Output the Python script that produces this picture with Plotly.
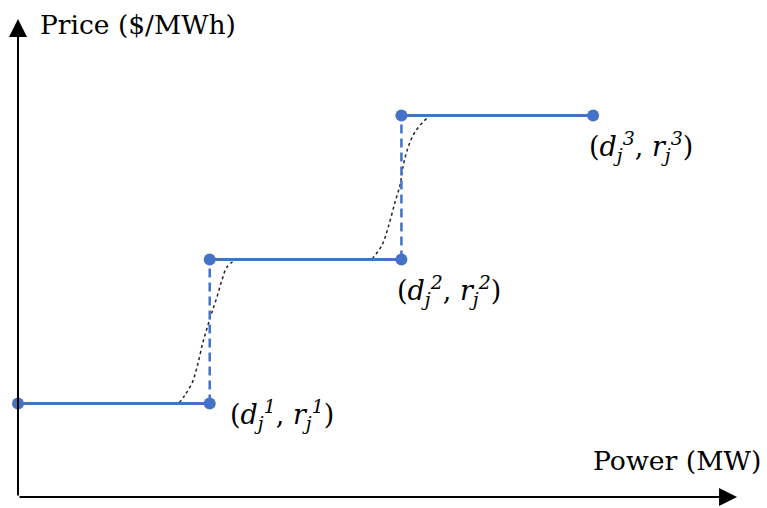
import plotly.graph_objects as go

# Stepwise price-quantity bid: block end points (d_j^k, r_j^k)
power_steps = [1.0, 2.0, 3.0]          # d_j^1, d_j^2, d_j^3
price_steps = [0.65, 1.65, 2.65]       # r_j^1, r_j^2, r_j^3
block_start = [0.0, 1.0, 2.0]          # left end of each block

# Smoothed transitions between blocks (dotted)
smooth1_d = [0.840, 0.871, 0.908, 0.934, 0.965, 0.991, 1.012, 1.038, 1.064, 1.090, 1.137]
smooth1_r = [0.653, 0.708, 0.792, 0.903, 1.076, 1.194, 1.285, 1.389, 1.507, 1.597, 1.650]
smooth2_d = [1.847, 1.899, 1.930, 1.967, 1.993, 2.008, 2.034, 2.071, 2.134, 2.154]
smooth2_r = [1.653, 1.750, 1.868, 2.049, 2.167, 2.292, 2.424, 2.535, 2.632, 2.650]

point_labels = ["(<i>d</i><sub><i>j</i></sub><sup><i>%d</i></sup>, "
                "<i>r</i><sub><i>j</i></sub><sup><i>%d</i></sup>)" % (k, k)
                for k in (1, 2, 3)]
x_title = "Power (MW)"
y_title = "Price ($/MWh)"

BLUE = "#4472C4"
SERIF = "DejaVu Serif"

X_RANGE = [-0.0939, 3.907]
Y_RANGE = [-0.0764, 3.4514]
X_TIP = 3.751
Y_TIP = 3.319

fig = go.Figure()

# dotted smooth curves
for dd, rr in [(smooth1_d, smooth1_r), (smooth2_d, smooth2_r)]:
    fig.add_trace(go.Scatter(x=dd, y=rr, mode="lines",
                             line=dict(color="#222222", width=1.5, dash="dot", shape="spline"),
                             hoverinfo="skip"))

# dashed vertical jumps between blocks
for k in range(len(power_steps) - 1):
    fig.add_trace(go.Scatter(x=[power_steps[k], power_steps[k]],
                             y=[price_steps[k], price_steps[k + 1]],
                             mode="lines",
                             line=dict(color=BLUE, width=2.5, dash="9px,5px"),
                             hoverinfo="skip"))

# horizontal blocks with end markers
for k in range(len(power_steps)):
    fig.add_trace(go.Scatter(x=[block_start[k], power_steps[k]],
                             y=[price_steps[k], price_steps[k]],
                             mode="lines+markers",
                             line=dict(color=BLUE, width=3),
                             marker=dict(color=BLUE, size=12),
                             hoverinfo="skip"))

annotations = []
# axes with arrowheads
for tip_x, tip_y in [(X_TIP, 0), (0, Y_TIP)]:
    annotations.append(dict(x=tip_x, y=tip_y, ax=0, ay=0, xref="x", yref="y",
                            axref="x", ayref="y", text="", showarrow=True,
                            arrowhead=2, arrowwidth=2, arrowsize=1.8, arrowcolor="black"))

# axis titles
annotations.append(dict(x=0, y=Y_TIP, xref="x", yref="y", text=y_title, showarrow=False,
                        xanchor="left", yanchor="middle", xshift=20, yshift=-5,
                        font=dict(family=SERIF, size=26.5, color="black")))
annotations.append(dict(x=X_RANGE[1], y=0, xref="x", yref="y", text=x_title, showarrow=False,
                        xanchor="right", yanchor="middle", xshift=-4, yshift=37,
                        font=dict(family=SERIF, size=26.7, color="black")))

# point labels
offsets = [(18, -11), (-6, -31), (-6, -31)]
for k in range(len(power_steps)):
    annotations.append(dict(x=power_steps[k], y=price_steps[k], xref="x", yref="y",
                            text=point_labels[k], showarrow=False,
                            xanchor="left", yanchor="middle",
                            xshift=offsets[k][0], yshift=offsets[k][1],
                            font=dict(family=SERIF, size=27, color="black")))

fig.update_layout(
    width=767, height=508,
    margin=dict(l=0, r=0, t=0, b=0),
    paper_bgcolor="white", plot_bgcolor="white",
    font=dict(family=SERIF, color="black"),
    showlegend=False,
    annotations=annotations,
    xaxis=dict(range=X_RANGE, visible=False, fixedrange=True),
    yaxis=dict(range=Y_RANGE, visible=False, fixedrange=True),
)

fig.write_html("out.html")
